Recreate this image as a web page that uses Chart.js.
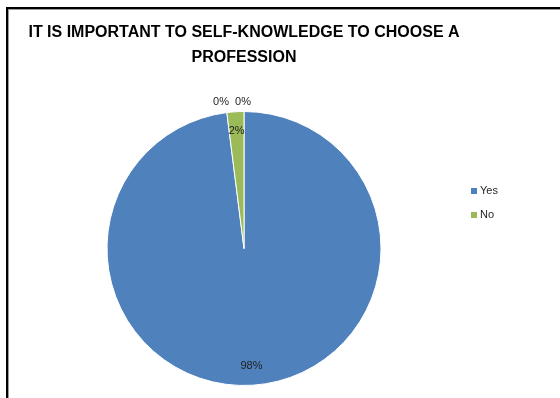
<!DOCTYPE html>
<html>
<head>
<meta charset="utf-8">
<script src="https://cdn.jsdelivr.net/npm/chart.js@4.4.1/dist/chart.umd.min.js"></script>
<style>
  html, body { margin: 0; padding: 0; background: #fff; }
  #wrap { position: relative; width: 560px; height: 398px; overflow: hidden; }
  #frame {
    position: absolute; left: 6px; top: 7px; width: 600px; height: 450px;
    border-left: 2px solid #000; border-top: 2px solid #000;
    box-shadow: inset 1px 1px 0 #9a9a9a;
  }
  canvas { position: absolute; left: 0; top: 0; }
</style>
</head>
<body>
<div id="wrap">
  <div id="frame"></div>
  <canvas id="c" width="560" height="398"></canvas>
</div>
<script>
// Survey answers: share of respondents per answer (percent)
const categories = ['Yes', 'No', '', ''];
const shares = [98, 2, 0, 0];
const sliceColors = ['#4F81BD', '#9BBB59', '#8064A2', '#4BACC6'];
const titleLines = ['IT IS IMPORTANT TO SELF-KNOWLEDGE TO CHOOSE A', 'PROFESSION'];

const FONT = "'Liberation Sans', Arial, sans-serif";

// Percentage labels: inside for non-empty slices, outside (side by side) for empty ones
const sliceLabels = {
  id: 'sliceLabels',
  afterDatasetsDraw(chart) {
    const ctx = chart.ctx;
    const meta = chart.getDatasetMeta(0);
    const vals = chart.data.datasets[0].data;
    const total = vals.reduce((a, b) => a + b, 0);
    const zeroIdx = vals.map((v, i) => v === 0 ? i : -1).filter(i => i >= 0);
    ctx.save();
    ctx.font = '11px ' + FONT;
    ctx.fillStyle = '#1f1f1f';
    ctx.textAlign = 'center';
    ctx.textBaseline = 'middle';
    meta.data.forEach((arc, i) => {
      const p = arc.getProps(['x', 'y', 'startAngle', 'endAngle', 'outerRadius'], true);
      const mid = (p.startAngle + p.endAngle) / 2;
      const pct = Math.round(vals[i] / total * 100) + '%';
      if (vals[i] > 0) {
        const r = p.outerRadius * 0.86;
        ctx.fillText(pct, p.x + Math.cos(mid) * r, p.y + Math.sin(mid) * r);
      } else {
        const r = p.outerRadius * 1.07;
        const k = zeroIdx.length - 1 - zeroIdx.indexOf(i);
        ctx.fillText(pct, p.x + Math.cos(mid) * r - 1 - k * 22, p.y + Math.sin(mid) * r);
      }
    });
    ctx.restore();
  }
};

// Legend column for the named answers
const sideLegend = {
  id: 'sideLegend',
  afterDraw(chart) {
    const ctx = chart.ctx;
    const labels = chart.data.labels;
    const x = chart.chartArea.right - 9;
    let y = 191;
    ctx.save();
    ctx.font = '11px ' + FONT;
    ctx.textBaseline = 'middle';
    labels.forEach((lab, i) => {
      if (!lab) return;
      ctx.fillStyle = sliceColors[i];
      ctx.fillRect(x, y - 3, 6, 6);
      ctx.fillStyle = '#262626';
      ctx.fillText(lab, x + 9, y);
      y += 24;
    });
    ctx.restore();
  }
};

new Chart(document.getElementById('c'), {
  type: 'pie',
  data: {
    labels: categories,
    datasets: [{
      data: shares,
      backgroundColor: sliceColors,
      borderColor: '#ffffff',
      borderWidth: 1
    }]
  },
  options: {
    responsive: false,
    animation: false,
    devicePixelRatio: 1,
    layout: { padding: { left: 8, right: 80, top: 0, bottom: 12 } },
    plugins: {
      legend: { display: false },
      tooltip: { enabled: false },
      title: {
        display: true,
        text: titleLines,
        color: '#000',
        font: { family: FONT, size: 16, weight: 'bold', lineHeight: 1.5625 },
        padding: { top: 20, bottom: 41 }
      }
    }
  },
  plugins: [sliceLabels, sideLegend]
});
</script>
</body>
</html>
